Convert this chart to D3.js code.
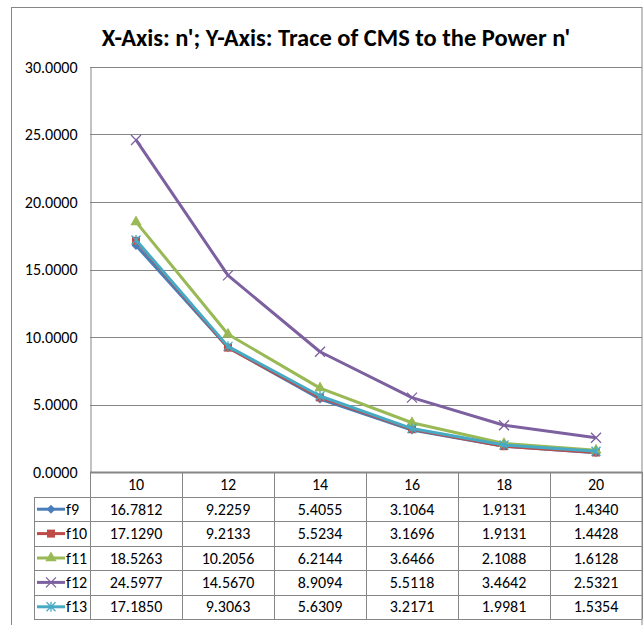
<!DOCTYPE html>
<html>
<head>
<meta charset="utf-8">
<script src="https://cdn.jsdelivr.net/npm/d3@7"></script>
<style>
  body { margin: 0; background: #fff; }
  text { font-family: Carlito, Calibri, "Open Sans", sans-serif; fill: #000; }
</style>
</head>
<body>
<div id="chart"></div>
<script>
let categories = ['10', '12', '14', '16', '18', '20'];
let seriesNames = ['f9', 'f10', 'f11', 'f12', 'f13'];
let f9 = [16.7812, 9.2259, 5.4055, 3.1064, 1.9131, 1.4340];
let f10 = [17.1290, 9.2133, 5.5234, 3.1696, 1.9131, 1.4428];
let f11 = [18.5263, 10.2056, 6.2144, 3.6466, 2.1088, 1.6128];
let f12 = [24.5977, 14.5670, 8.9094, 5.5118, 3.4642, 2.5321];
let f13 = [17.1850, 9.3063, 5.6309, 3.2171, 1.9981, 1.5354];
let yTicks = [0, 5, 10, 15, 20, 25, 30];

let colors = ['#4A7EBB', '#BE4B48', '#98B954', '#7D60A0', '#46AAC5'];
let markers = ['diamond', 'square', 'triangle', 'x', 'star'];

let series = [f9, f10, f11, f12, f13].map((values, i) => ({
  name: seriesNames[i], values: values, color: colors[i], marker: markers[i]
}));

let width = 643,
    height = 625,
    plot = {left: 90, right: 642, top: 67, bottom: 472},
    rowH = 24.4,
    headH = 25,
    legendLeft = 34,
    fontSize = '16px',
    grid = '#868686';

let svg = d3.select('#chart')
  .append('svg')
  .attr('width', width)
  .attr('height', height);

// outer chart border
svg.append('rect')
  .attr('x', 11.5).attr('y', 7.5)
  .attr('width', 630.5).attr('height', 640)
  .attr('fill', 'none').attr('stroke', grid);

let x = d3.scaleBand()
  .domain(categories)
  .range([plot.left, plot.right]);

let y = d3.scaleLinear()
  .domain([0, 30])
  .range([plot.bottom, plot.top]);

// title
svg.append('text')
  .attr('x', 336).attr('y', 46)
  .attr('text-anchor', 'middle')
  .style('font-size', '24.5px')
  .style('font-weight', 'bold')
  .text("X-Axis: n'; Y-Axis: Trace of CMS to the Power n'");

// gridlines
svg.append('g')
  .selectAll('line')
  .data(yTicks)
  .enter().append('line')
    .attr('x1', plot.left).attr('x2', plot.right)
    .attr('y1', d => Math.round(y(d)) + 0.5)
    .attr('y2', d => Math.round(y(d)) + 0.5)
    .attr('stroke', grid)
    .attr('stroke-width', 1);

// y axis
let yAxis = svg.append('g')
  .attr('transform', `translate(${plot.left + 0.5},0)`)
  .call(d3.axisLeft(y).tickValues(yTicks).tickFormat(d3.format('.4f')).tickSize(0).tickPadding(13));
yAxis.select('.domain').attr('stroke', grid);
yAxis.selectAll('text').style('font-size', fontSize).attr('fill', '#000');

// table lines
let tableBottom = plot.bottom + headH + rowH * series.length;
let tbl = svg.append('g').attr('stroke', grid).attr('stroke-width', 1).attr('fill', 'none');
// axis line
tbl.append('line')
  .attr('x1', plot.left).attr('x2', plot.right)
  .attr('y1', plot.bottom + 0.5).attr('y2', plot.bottom + 0.5)
  .attr('stroke-width', 2);
// row lines
d3.range(series.length + 1).forEach(i => {
  let yy = Math.round(plot.bottom + headH + i * rowH) + 0.5;
  tbl.append('line')
    .attr('x1', legendLeft).attr('x2', plot.right)
    .attr('y1', yy).attr('y2', yy);
});
// column lines
categories.forEach(c => {
  tbl.append('line')
    .attr('x1', Math.round(x(c)) + 0.5).attr('x2', Math.round(x(c)) + 0.5)
    .attr('y1', plot.bottom).attr('y2', tableBottom);
});
tbl.append('line')
  .attr('x1', plot.right + 0.5).attr('x2', plot.right + 0.5)
  .attr('y1', plot.bottom).attr('y2', tableBottom);
tbl.append('line')
  .attr('x1', legendLeft + 0.5).attr('x2', legendLeft + 0.5)
  .attr('y1', plot.bottom + headH).attr('y2', tableBottom);

// header labels
svg.append('g')
  .selectAll('text')
  .data(categories)
  .enter().append('text')
    .attr('x', d => x(d) + x.bandwidth() / 2)
    .attr('y', plot.bottom + headH / 2 + 5.5)
    .attr('text-anchor', 'middle')
    .style('font-size', fontSize)
    .text(d => d);

// marker shapes
function markerPath(type) {
  if (type === 'diamond') return d3.symbol(d3.symbolDiamond2, 50)();
  if (type === 'square') return d3.symbol(d3.symbolSquare, 64)();
  if (type === 'triangle') return d3.symbol(d3.symbolTriangle, 55)();
  if (type === 'x') return 'M-5,-5L5,5M-5,5L5,-5';
  return 'M-4.5,-4.5L4.5,4.5M-4.5,4.5L4.5,-4.5M0,-5L0,5';
}

function drawMarker(g, s) {
  let filled = s.marker === 'diamond' || s.marker === 'square' || s.marker === 'triangle';
  g.append('path')
    .attr('d', markerPath(s.marker))
    .attr('fill', filled ? s.color : 'none')
    .attr('stroke', s.color)
    .attr('stroke-width', filled ? 0 : 1.3);
}

// lines + markers
let line = d3.line()
  .x((d, i) => x(categories[i]) + x.bandwidth() / 2)
  .y(d => y(d));

series.forEach(s => {
  svg.append('path')
    .datum(s.values)
    .attr('d', line)
    .attr('fill', 'none')
    .attr('stroke', s.color)
    .attr('stroke-width', 3)
    .attr('stroke-linejoin', 'round');
  s.values.forEach((v, i) => {
    let g = svg.append('g')
      .attr('transform', `translate(${x(categories[i]) + x.bandwidth() / 2},${y(v)})`);
    drawMarker(g, s);
  });
});

// table rows
series.forEach((s, r) => {
  let cy = plot.bottom + headH + r * rowH + rowH / 2;
  let row = svg.append('g');
  row.append('line')
    .attr('x1', 37).attr('x2', 65)
    .attr('y1', cy).attr('y2', cy)
    .attr('stroke', s.color).attr('stroke-width', 3);
  drawMarker(row.append('g').attr('transform', `translate(51,${cy})`), s);
  row.append('text')
    .attr('x', 66).attr('y', cy + 5.5)
    .style('font-size', fontSize)
    .text(s.name);
  row.selectAll('text.val')
    .data(s.values)
    .enter().append('text')
      .attr('class', 'val')
      .attr('x', (d, i) => x(categories[i]) + x.bandwidth() / 2)
      .attr('y', cy + 5.5)
      .attr('text-anchor', 'middle')
      .style('font-size', fontSize)
      .text(d => d3.format('.4f')(d));
});
</script>
</body>
</html>
